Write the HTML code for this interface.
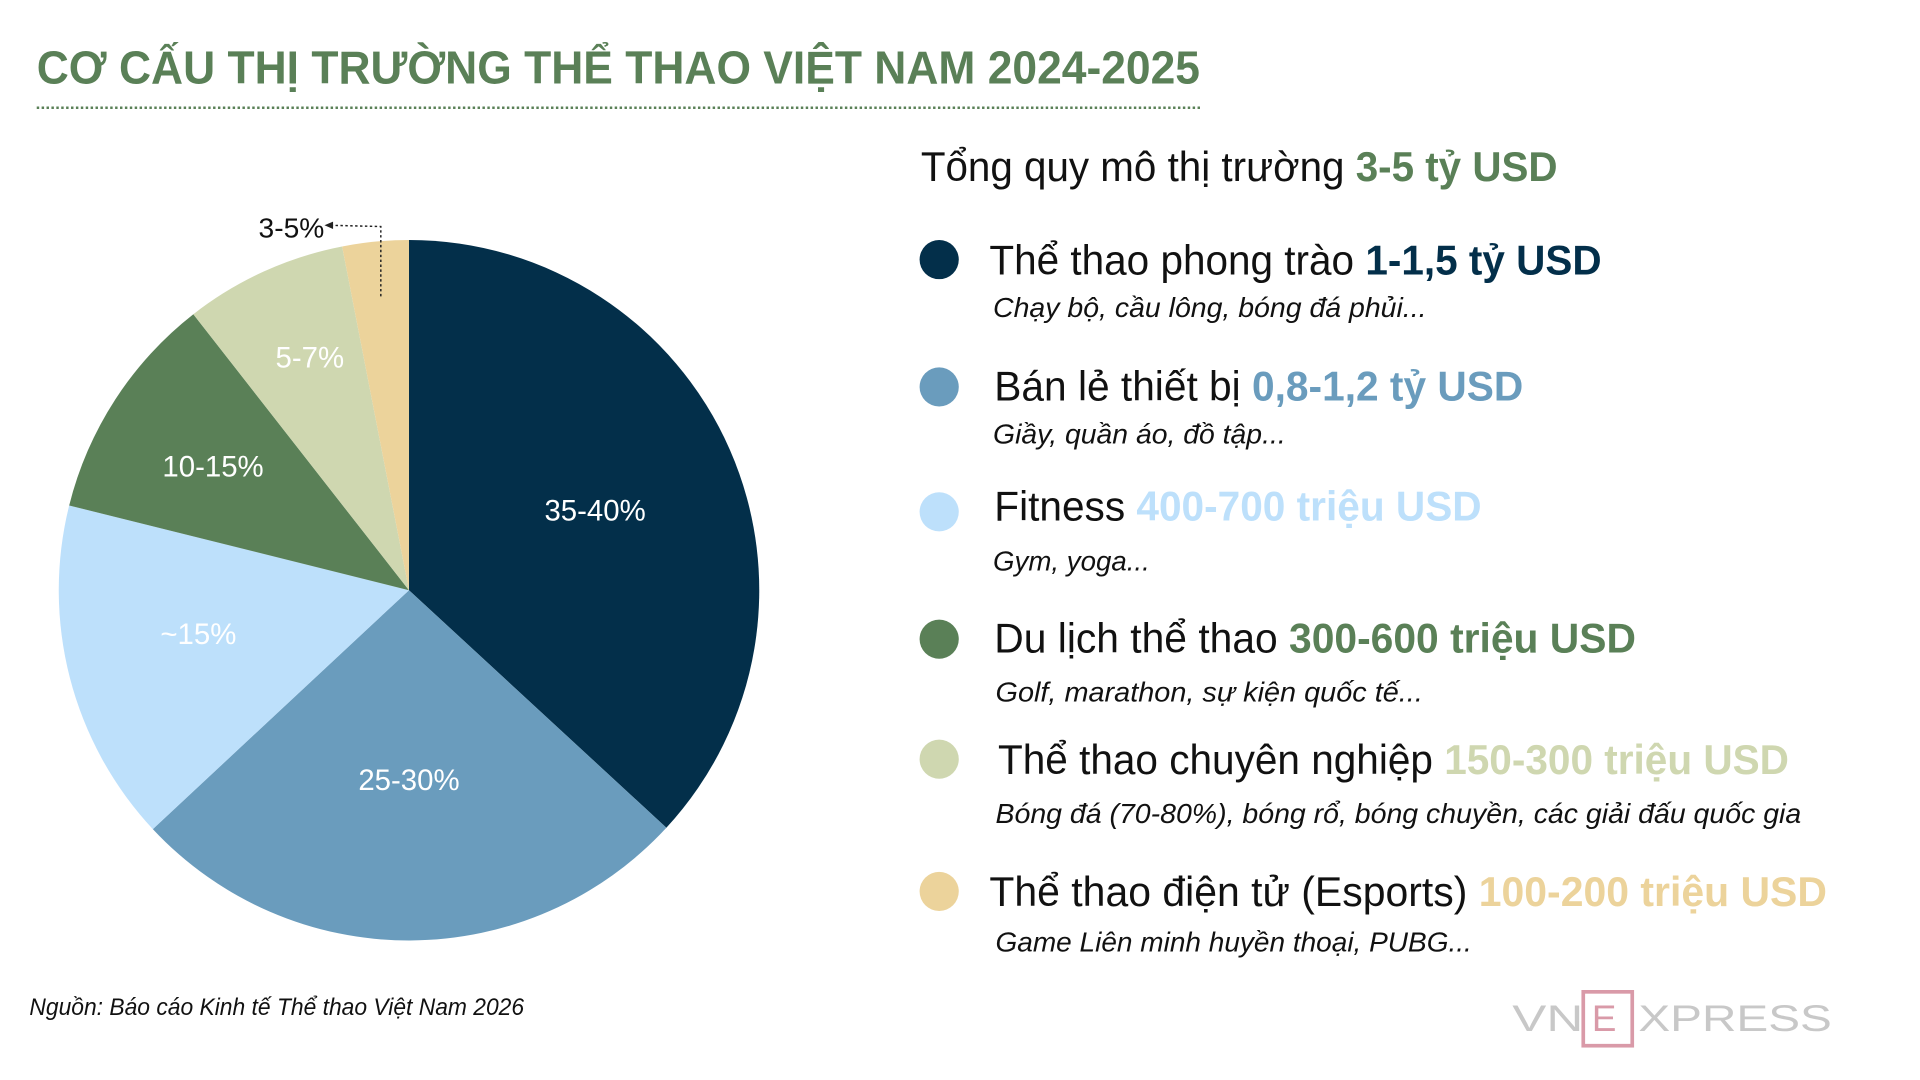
<!DOCTYPE html>
<html><head><meta charset="utf-8"><style>
html,body{margin:0;padding:0;background:#fff;width:1920px;height:1080px;overflow:hidden}
svg{display:block}
text{font-family:"Liberation Sans","Noto Sans CJK SC",sans-serif}
</style></head><body>
<svg width="1920" height="1080" viewBox="0 0 1568 882" preserveAspectRatio="none" xmlns="http://www.w3.org/2000/svg">
<rect width="1568" height="882" fill="#fff"/>
<text x="30" y="68" font-size="38" font-weight="bold" fill="#5a8057" textLength="950" lengthAdjust="spacingAndGlyphs">CƠ CẤU THỊ TRƯỜNG THỂ THAO VIỆT NAM 2024-2025</text>
<line x1="30" y1="88" x2="980" y2="88" stroke="#5a8057" stroke-width="2" stroke-dasharray="2,2"/>
<g>
<path d="M334,482 L334,196 A286,286 0 0 1 544.2,676 Z" fill="#032f4a"/>
<path d="M334,482 L544.2,676 A286,286 0 0 1 124.8,677.1 Z" fill="#6a9cbd"/>
<path d="M334,482 L124.8,677.1 A286,286 0 0 1 56.5,412.8 Z" fill="#bde0fb"/>
<path d="M334,482 L56.5,412.8 A286,286 0 0 1 157.9,256.6 Z" fill="#5a8057"/>
<path d="M334,482 L157.9,256.6 A286,286 0 0 1 279.4,201.3 Z" fill="#cfd7b0"/>
<path d="M334,482 L279.4,201.3 A286,286 0 0 1 334,196 Z" fill="#ecd39b"/>
</g>
<g font-size="24" fill="#fff" text-anchor="middle">
<text x="486" y="425">35-40%</text>
<text x="334" y="645">25-30%</text>
<text x="162" y="526">~15%</text>
<text x="174" y="389">10-15%</text>
<text x="253" y="300">5-7%</text>
</g>
<text x="238" y="194" font-size="23" fill="#111" text-anchor="middle">3-5%</text>
<path d="M311,242 L311,185 L270,184" fill="none" stroke="#222" stroke-width="1.2" stroke-dasharray="2,2"/>
<path d="M265,184 L272,181 L272,187 Z" fill="#222"/>

<text x="752" y="148" font-size="34" fill="#111" textLength="520" lengthAdjust="spacingAndGlyphs">Tổng quy mô thị trường <tspan font-weight="bold" fill="#5a8057">3-5 tỷ USD</tspan></text>

<circle cx="767" cy="212" r="16" fill="#032f4a"/>
<text x="808" y="224" font-size="34" fill="#111" textLength="500" lengthAdjust="spacingAndGlyphs">Thể thao phong trào <tspan font-weight="bold" fill="#032f4a">1-1,5 tỷ USD</tspan></text>
<text x="811" y="259" font-size="23" font-style="italic" fill="#111" textLength="354" lengthAdjust="spacingAndGlyphs">Chạy bộ, cầu lông, bóng đá phủi...</text>

<circle cx="767" cy="316" r="16" fill="#6a9cbd"/>
<text x="812" y="327" font-size="34" fill="#111" textLength="432" lengthAdjust="spacingAndGlyphs">Bán lẻ thiết bị <tspan font-weight="bold" fill="#6a9cbd">0,8-1,2 tỷ USD</tspan></text>
<text x="811" y="362" font-size="23" font-style="italic" fill="#111" textLength="239" lengthAdjust="spacingAndGlyphs">Giầy, quần áo, đồ tập...</text>

<circle cx="767" cy="418" r="16" fill="#bde0fb"/>
<text x="812" y="425" font-size="34" fill="#111" textLength="398" lengthAdjust="spacingAndGlyphs">Fitness <tspan font-weight="bold" fill="#bde0fb">400-700 triệu USD</tspan></text>
<text x="811" y="466" font-size="23" font-style="italic" fill="#111" textLength="128" lengthAdjust="spacingAndGlyphs">Gym, yoga...</text>

<circle cx="767" cy="522" r="16" fill="#5a8057"/>
<text x="812" y="533" font-size="34" fill="#111" textLength="524" lengthAdjust="spacingAndGlyphs">Du lịch thể thao <tspan font-weight="bold" fill="#5a8057">300-600 triệu USD</tspan></text>
<text x="813" y="573" font-size="23" font-style="italic" fill="#111" textLength="349" lengthAdjust="spacingAndGlyphs">Golf, marathon, sự kiện quốc tế...</text>

<circle cx="767" cy="620" r="16" fill="#cfd7b0"/>
<text x="815" y="632" font-size="34" fill="#111" textLength="646" lengthAdjust="spacingAndGlyphs">Thể thao chuyên nghiệp <tspan font-weight="bold" fill="#cfd7b0">150-300 triệu USD</tspan></text>
<text x="813" y="672" font-size="23" font-style="italic" fill="#111" textLength="658" lengthAdjust="spacingAndGlyphs">Bóng đá (70-80%), bóng rổ, bóng chuyền, các giải đấu quốc gia</text>

<circle cx="767" cy="728" r="16" fill="#ecd39b"/>
<text x="808" y="740" font-size="34" fill="#111" textLength="684" lengthAdjust="spacingAndGlyphs">Thể thao điện tử (Esports) <tspan font-weight="bold" fill="#ecd39b">100-200 triệu USD</tspan></text>
<text x="813" y="777" font-size="23" font-style="italic" fill="#111" textLength="389" lengthAdjust="spacingAndGlyphs">Game Liên minh huyền thoại, PUBG...</text>

<text x="24" y="829" font-size="20" font-style="italic" fill="#111" textLength="404" lengthAdjust="spacingAndGlyphs">Nguồn: Báo cáo Kinh tế Thể thao Việt Nam 2026</text>

<g>
<text x="1235" y="842" font-size="30" fill="#c8c8c8" textLength="58" lengthAdjust="spacingAndGlyphs">VN</text>
<rect x="1293" y="810" width="40" height="44" fill="none" stroke="#d99aa8" stroke-width="3"/>
<text x="1300" y="842" font-size="30" fill="#d99aa8">E</text>
<text x="1338" y="842" font-size="30" fill="#c8c8c8" textLength="158" lengthAdjust="spacingAndGlyphs">XPRESS</text>
</g>
</svg>
</body></html>
